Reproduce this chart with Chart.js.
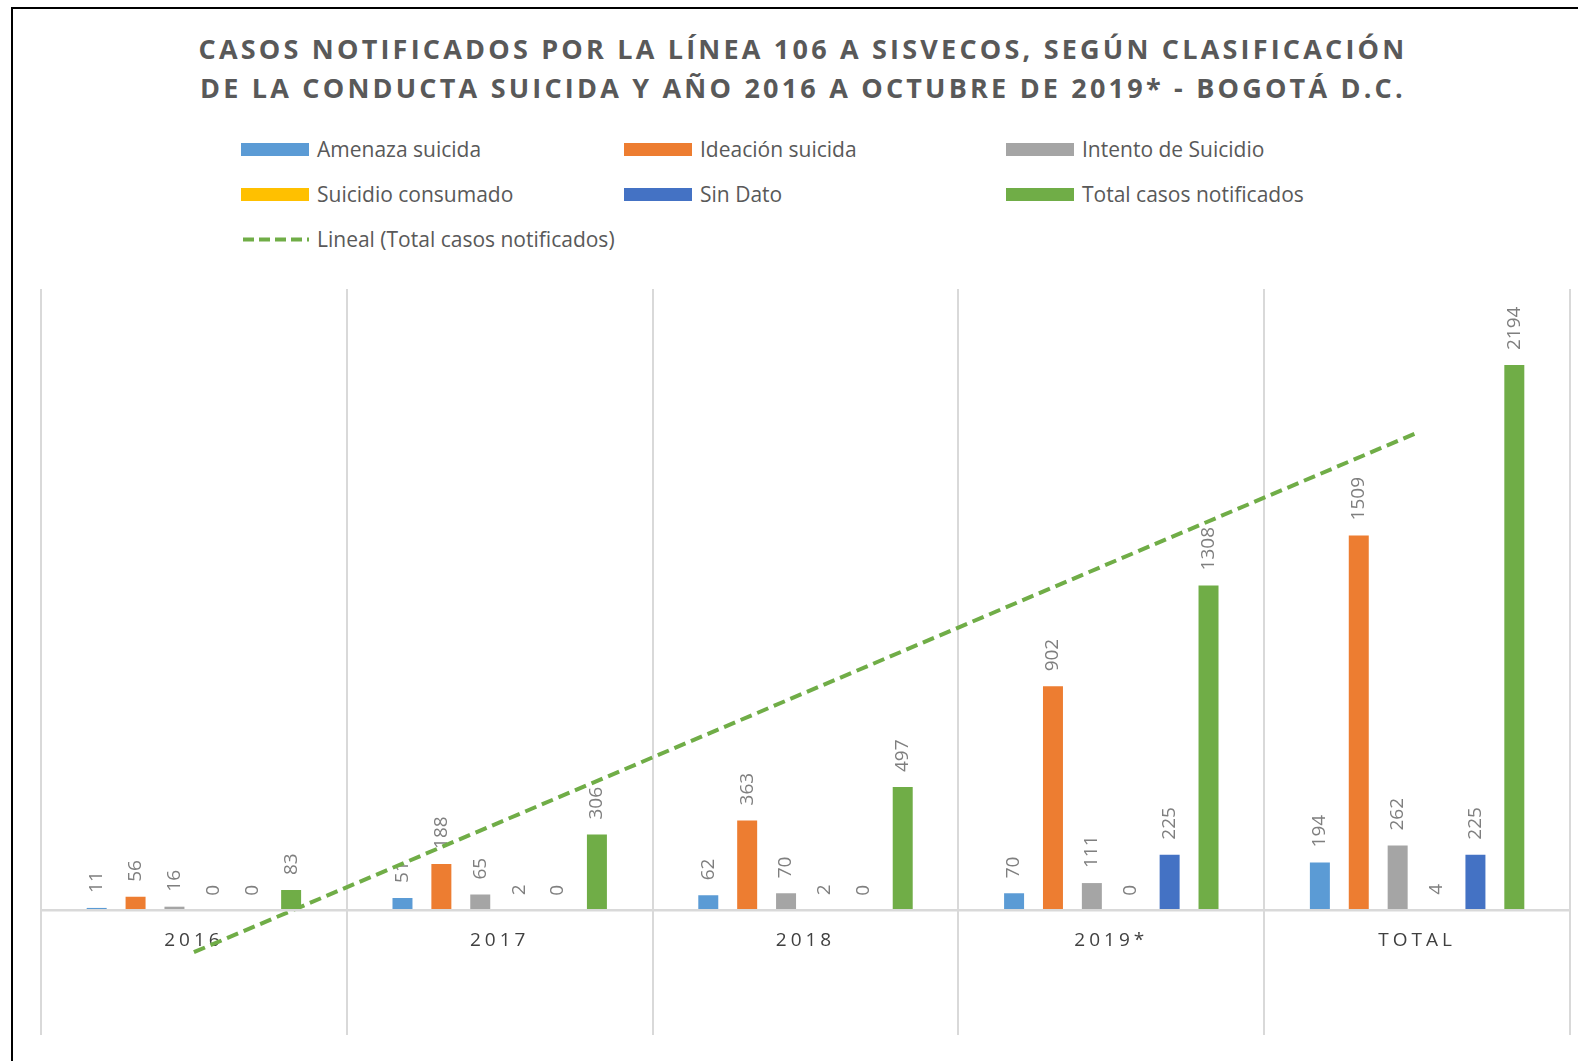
<!DOCTYPE html>
<html>
<head>
<meta charset="utf-8">
<title>Casos notificados Línea 106</title>
<script src="https://cdn.jsdelivr.net/npm/chart.js@4.4.0/dist/chart.umd.min.js"></script>
<style>
  body { margin: 0; background: #fff; overflow: hidden; font-family: "Open Sans", sans-serif; }
  #frame { position: absolute; left: 11px; top: 7px; width: 1700px; height: 1200px; border-left: 2px solid #000; border-top: 2px solid #000; }
  #title { position: absolute; left: 0; width: 1606px; top: 29px; text-align: center; color: #595959;
           font-weight: 700; font-size: 27px; line-height: 39px; letter-spacing: 3.2px; }
  .leg { position: absolute; height: 26px; display: flex; align-items: center; color: #595959; font-size: 21px; white-space: nowrap; }
  .sw { width: 68px; height: 13px; margin-right: 8px; }
  #wrap { position: absolute; left: 0; top: 0; width: 1578px; height: 1061px; }
</style>
</head>
<body>
<div id="frame"></div>
<div id="title">CASOS NOTIFICADOS POR LA LÍNEA 106 A SISVECOS, SEGÚN CLASIFICACIÓN<br>DE LA CONDUCTA SUICIDA Y AÑO 2016 A OCTUBRE DE 2019* - BOGOTÁ D.C.</div>
<div id="legend"></div>
<div id="wrap"><canvas id="chart"></canvas></div>
<script>
// categorias y series
var years = ['2016', '2017', '2018', '2019*', 'TOTAL'];
var amenaza   = [11, 51, 62, 70, 194];
var ideacion  = [56, 188, 363, 902, 1509];
var intento   = [16, 65, 70, 111, 262];
var consumado = [0, 2, 2, 0, 4];
var sinDato   = [0, 0, 0, 225, 225];
var total     = [83, 306, 497, 1308, 2194];
// tendencia lineal (inicio y fin)
var lineal    = [-167, null, null, null, 1922];

var names  = ['Amenaza suicida', 'Ideación suicida', 'Intento de Suicidio', 'Suicidio consumado', 'Sin Dato', 'Total casos notificados'];
var colors = ['#5B9BD5', '#ED7D31', '#A5A5A5', '#FFC000', '#4472C4', '#70AD47'];
var series = [amenaza, ideacion, intento, consumado, sinDato, total];

// leyenda
var legX = [241, 624, 1006], legY = [149, 194, 239];
var html = '';
for (var a = 0; a < names.length; a++) {
	html += '<div class="leg" style="left:' + legX[a % 3] + 'px;top:' + (legY[Math.floor(a / 3)] - 13) + 'px"><div class="sw" style="background:' + colors[a] + '"></div>' + names[a] + '</div>';
}
html += '<div class="leg" style="left:' + legX[0] + 'px;top:' + (legY[2] - 13) + 'px"><svg class="sw" width="68" height="13"><line x1="2" y1="6.5" x2="68" y2="6.5" stroke="#70AD47" stroke-width="4" stroke-dasharray="11,5"/></svg>Lineal (Total casos notificados)</div>';
document.getElementById('legend').innerHTML = html;

var datasets = [{
	type: 'line',
	label: 'Lineal (Total casos notificados)',
	data: lineal,
	borderColor: '#70AD47',
	borderWidth: 4,
	borderDash: [12, 6],
	pointRadius: 0,
	spanGaps: true,
	fill: false
}];
for (var b = 0; b < series.length; b++) {
	datasets.push({
		type: 'bar',
		label: names[b],
		data: series[b],
		backgroundColor: colors[b],
		categoryPercentage: 0.763,
		barPercentage: 0.514
	});
}

var barLabels = {
	id: 'barLabels',
	beforeDraw: function(chart) { chart.ctx.letterSpacing = '4px'; },
	beforeDatasetsDraw: function(chart) {
		var ctx = chart.ctx;
		ctx.letterSpacing = '0px';
		ctx.save();
		ctx.font = '19px "Open Sans"';
		ctx.fillStyle = '#7f7f7f';
		ctx.textAlign = 'left';
		ctx.textBaseline = 'middle';
		chart.data.datasets.forEach(function(ds, i) {
			if (ds.type !== 'bar') return;
			chart.getDatasetMeta(i).data.forEach(function(bar, j) {
				ctx.save();
				ctx.translate(bar.x, bar.y - 15);
				ctx.rotate(-Math.PI / 2);
				ctx.fillText(String(ds.data[j]), 0, 0);
				ctx.restore();
			});
		});
		ctx.restore();
	}
};

var ctx = document.getElementById('chart').getContext('2d');
var chart = new Chart(ctx, {
	data: { labels: years, datasets: datasets },
	plugins: [barLabels],
	options: {
		responsive: true,
		maintainAspectRatio: false,
		animation: false,
		layout: { padding: { left: 41, right: 8, top: 289, bottom: 26 } },
		plugins: { legend: { display: false }, tooltip: { enabled: false } },
		scales: {
			x: {
				position: { y: 0 },
				offset: true,
				grid: { offset: true, color: '#d9d9d9', lineWidth: 2, drawTicks: false },
				border: { color: '#d9d9d9', width: 2.5, z: 1 },
				ticks: { color: '#404040', font: { family: 'Open Sans', size: 19 }, padding: 19 }
			},
			y: { display: false, min: -500, max: 2500 }
		}
	}
});
</script>
</body>
</html>
